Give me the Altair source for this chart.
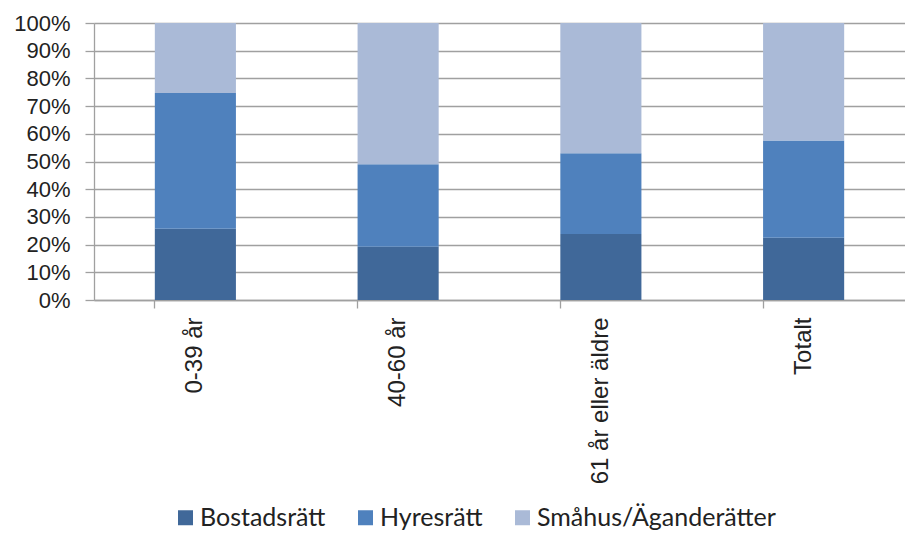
import altair as alt
import pandas as pd

categories = ["0-39 år", "40-60 år", "61 år eller äldre", "Totalt"]
series = ["Bostadsrätt", "Hyresrätt", "Småhus/Äganderätter"]
bostadsratt = [25.7, 19.2, 23.8, 22.5]
hyresratt = [49.0, 29.8, 29.2, 35.1]
smahus = [25.3, 51.0, 47.0, 42.4]
colors = ["#406899", "#4F81BD", "#AABAD7"]
y_ticks = [0, 0.1, 0.2, 0.3, 0.4, 0.5, 0.6, 0.7, 0.8, 0.9, 1.0]

rows = []
for i, c in enumerate(categories):
    for j, (s, vals) in enumerate(zip(series, [bostadsratt, hyresratt, smahus])):
        rows.append({"cat": c, "series": s, "value": vals[i], "ord": j})
df = pd.DataFrame(rows)

chart = alt.Chart(df).mark_bar().encode(
    x=alt.X("cat:N", sort=categories, title=None,
            scale=alt.Scale(paddingInner=0.6, paddingOuter=0.3),
            axis=alt.Axis(labelAngle=270, labelAlign="right", labelBaseline="middle",
                          labelFont="Liberation Sans", labelFontSize=24, labelColor="#222",
                          labelPadding=9, tickSize=8, tickColor="#a0a0a0", tickWidth=1.3,
                          domainColor="#a0a0a0", domainWidth=1.3, bandPosition=0,
                          grid=False)),
    y=alt.Y("value:Q", stack="normalize", title=None,
            scale=alt.Scale(domain=[0, 1], nice=False),
            axis=alt.Axis(values=y_ticks, format=".0%", labelFont="Liberation Sans",
                          labelFontSize=22, labelColor="#222", labelPadding=15,
                          tickSize=9, tickColor="#a0a0a0", tickWidth=1.3,
                          domainColor="#a0a0a0", domainWidth=1.3,
                          gridColor="#a0a0a0", gridWidth=1.3)),
    color=alt.Color("series:N", sort=series,
                    scale=alt.Scale(domain=series, range=colors),
                    legend=alt.Legend(title=None, orient="none", direction="horizontal",
                                      legendX=74, legendY=477, padding=5, symbolType="square",
                                      symbolSize=225, symbolStrokeWidth=0, labelOffset=2,
                                      columnPadding=27, labelFont="Lato", labelFontSize=25,
                                      labelColor="#222", labelLimit=400)),
    order=alt.Order("ord:Q", sort="ascending"),
).properties(
    width=811, height=277,
    autosize=alt.AutoSizeParams(type="none"),
    padding={"left": 86, "top": 15, "right": 0, "bottom": 233},
).configure_view(stroke=None)

chart.save("out.html", embed_options={"renderer": "svg", "actions": False})
